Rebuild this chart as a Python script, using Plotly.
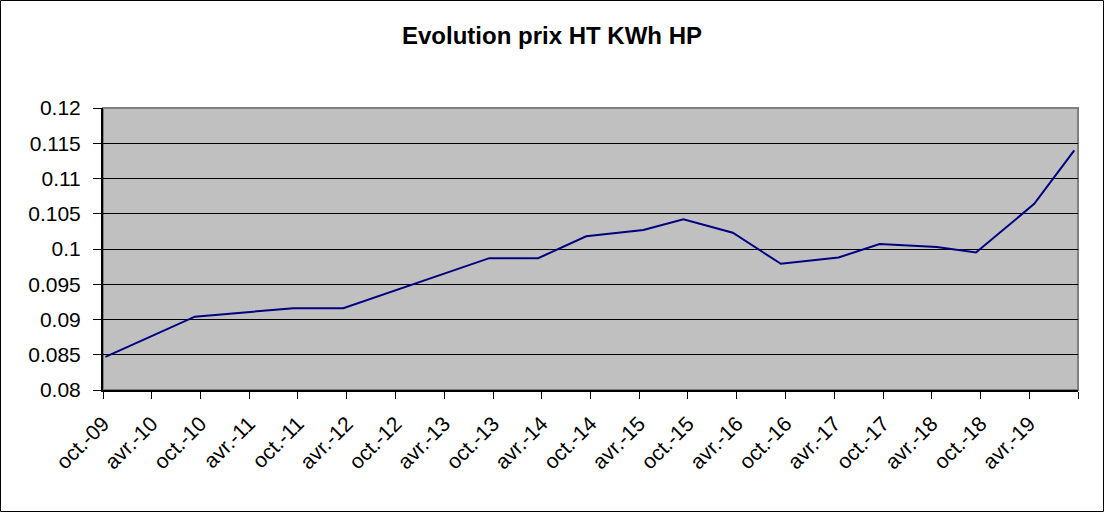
import plotly.graph_objects as go

# ---- data ----
dates = ["2009-10-10", "2010-09-10", "2011-09-14", "2012-03-19", "2013-09-17",
         "2014-03-19", "2014-09-15", "2015-04-17", "2015-09-14", "2016-03-17",
         "2016-09-13", "2017-04-17", "2017-09-18", "2018-04-20", "2018-09-14",
         "2019-04-20", "2019-09-17"]
prices = [0.0847, 0.0904, 0.0916, 0.0916, 0.0987,
          0.0987, 0.1018, 0.1027, 0.1042, 0.1023,
          0.0979, 0.0988, 0.1007, 0.1003, 0.0995,
          0.1064, 0.1140]

x_tick_vals = ["2009-10-01", "2010-04-01", "2010-10-01", "2011-04-01", "2011-10-01",
               "2012-04-01", "2012-10-01", "2013-04-01", "2013-10-01", "2014-04-01",
               "2014-10-01", "2015-04-01", "2015-10-01", "2016-04-01", "2016-10-01",
               "2017-04-01", "2017-10-01", "2018-04-01", "2018-10-01", "2019-04-01",
               "2019-10-01"]
x_tick_text = ["oct.-09", "avr.-10", "oct.-10", "avr.-11", "oct.-11", "avr.-12",
               "oct.-12", "avr.-13", "oct.-13", "avr.-14", "oct.-14", "avr.-15",
               "oct.-15", "avr.-16", "oct.-16", "avr.-17", "oct.-17", "avr.-18",
               "oct.-18", "avr.-19", ""]
y_tick_vals = [0.08, 0.085, 0.09, 0.095, 0.1, 0.105, 0.11, 0.115, 0.12]
y_tick_text = ["0.08", "0.085", "0.09", "0.095", "0.1", "0.105", "0.11", "0.115", "0.12"]

FONT = "Arial, Liberation Sans, sans-serif"

fig = go.Figure()
fig.add_trace(go.Scatter(x=dates, y=prices, mode="lines",
                         line=dict(color="#000080", width=2), showlegend=False,
                         hoverinfo="x+y"))

# grey plot-area border (top/right)
fig.add_shape(type="rect", xref="x domain", yref="y domain", x0=0, x1=1, y0=0, y1=1,
              line=dict(color="#808080", width=2), fillcolor="rgba(0,0,0,0)", layer="below")

# outer chart border
L, R, T, B = 103, 26, 108, 122
W, H = 1104 - L - R, 512 - T - B
fig.add_shape(type="rect", xref="paper", yref="paper",
              x0=(0.5 - L) / W, x1=(1103.5 - L) / W,
              y0=-(B - 0.5) / H, y1=(H + T - 0.5) / H,
              line=dict(color="black", width=1), fillcolor="rgba(0,0,0,0)")

fig.update_layout(
    width=1104, height=512,
    margin=dict(l=L, r=R, t=T, b=B),
    paper_bgcolor="white",
    plot_bgcolor="#C0C0C0",
    font=dict(family=FONT, color="black", size=21),
    title=dict(text="<b>Evolution prix HT KWh HP</b>", xref="container", x=0.5,
               xanchor="center", yref="container", y=1 - 36 / 512, yanchor="middle",
               font=dict(family=FONT, size=24, color="black")),
)

fig.update_xaxes(type="date", range=["2009-10-01", "2019-10-01"],
                 tickmode="array", tickvals=x_tick_vals, ticktext=x_tick_text,
                 tickangle=-45, ticks="outside", ticklen=7, tickcolor="black", tickwidth=1,
                 showgrid=False, showline=True, linecolor="black", linewidth=2,
                 ticklabelstandoff=4,
                 tickfont=dict(family=FONT, size=21, color="black"), zeroline=False)
fig.update_yaxes(range=[0.08, 0.12], tickmode="array", tickvals=y_tick_vals,
                 ticktext=y_tick_text, ticks="outside", ticklen=8, tickcolor="black",
                 tickwidth=1, showgrid=True, gridcolor="black", gridwidth=1,
                 showline=True, linecolor="black", linewidth=2, zeroline=False,
                 ticklabelstandoff=8,
                 tickfont=dict(family=FONT, size=21, color="black"))

fig.write_html("out.html", config={"displayModeBar": False},
               post_script="document.body.style.margin='0';document.body.style.overflow='hidden';")
